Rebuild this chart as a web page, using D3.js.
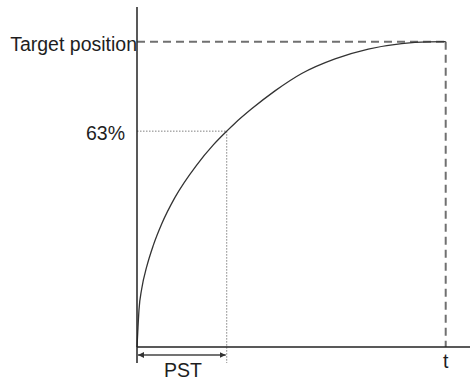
<!DOCTYPE html>
<html>
<head>
<meta charset="utf-8">
<script src="https://cdn.jsdelivr.net/npm/d3@7"></script>
<style>
  body { margin: 0; background: #fff; }
  svg { display: block; }
  text { font-family: "Liberation Sans", Arial, sans-serif; fill: #1e1e1e; }
</style>
</head>
<body>
<div id="chart"></div>
<script>
// time in units of PST, position in % of target
const curveT   = [0, 0.008, 0.022, 0.052, 0.108, 0.181, 0.274, 0.422, 0.663, 0.848, 0.997, 1.089, 1.274, 1.533, 1.83, 2.2, 2.57, 2.94, 3.237, 3.43];
const curvePos = [0, 4.6, 12.1, 19.0, 26.3, 33.3, 40.3, 49.0, 59.6, 66.2, 70.7, 73.3, 78.0, 83.9, 89.6, 94.4, 97.6, 99.4, 99.95, 100];

const pstT = 0.997, pstPos = 70.7;   // where the 63% marker sits in the picture
const endT = 3.43, targetPos = 100;
const yLabels = ["Target position", "63%"];
const xLabels = ["PST", "t"];

const width = 470, height = 382;

const svg = d3.select("#chart")
    .append("svg")
    .attr("width", width)
    .attr("height", height);

// scales
const x = d3.scaleLinear().domain([0, 3.7]).range([137, 470]);
const y = d3.scaleLinear().domain([0, 100]).range([347, 41.7]);

// arrow markers
const defs = svg.append("defs");
["start", "end"].forEach(k => {
    defs.append("marker")
        .attr("id", "arr-" + k)
        .attr("viewBox", "0 0 10 10")
        .attr("refX", k === "end" ? 10 : 0)
        .attr("refY", 5)
        .attr("markerWidth", 6)
        .attr("markerHeight", 6)
        .attr("markerUnits", "userSpaceOnUse")
        .attr("orient", "auto")
        .append("path")
        .attr("d", k === "end" ? "M0,0 L10,5 L0,10 Z" : "M10,0 L0,5 L10,10 Z")
        .attr("fill", "#333");
});

// target level and end time (dashed)
svg.append("line")
    .attr("x1", x(0)).attr("x2", x(endT))
    .attr("y1", y(targetPos)).attr("y2", y(targetPos))
    .attr("stroke", "#707070").attr("stroke-width", 2)
    .attr("stroke-dasharray", "8,5");
svg.append("line")
    .attr("x1", x(endT)).attr("x2", x(endT))
    .attr("y1", y(targetPos)).attr("y2", y(0))
    .attr("stroke", "#707070").attr("stroke-width", 2)
    .attr("stroke-dasharray", "8,5");

// 63% marker (dotted)
svg.append("line")
    .attr("x1", x(0)).attr("x2", x(pstT))
    .attr("y1", y(pstPos)).attr("y2", y(pstPos))
    .attr("stroke", "#808080").attr("stroke-width", 1)
    .attr("stroke-dasharray", "1.5,1.5");
svg.append("line")
    .attr("x1", x(pstT)).attr("x2", x(pstT))
    .attr("y1", y(pstPos)).attr("y2", y(0) + 16)
    .attr("stroke", "#808080").attr("stroke-width", 1)
    .attr("stroke-dasharray", "1.5,1.5");

// response curve
const pts = curveT.map((t, i) => [t, curvePos[i]]);
svg.append("path")
    .datum(pts)
    .attr("fill", "none")
    .attr("stroke", "#333")
    .attr("stroke-width", 1.3)
    .attr("d", d3.line().x(d => x(d[0])).y(d => y(d[1])).curve(d3.curveMonotoneX));

// axes
svg.append("line")
    .attr("x1", x(0)).attr("x2", x(0))
    .attr("y1", y(111.4)).attr("y2", y(0) + 16)
    .attr("stroke", "#222").attr("stroke-width", 1.5);
svg.append("line")
    .attr("x1", x(0)).attr("x2", x(3.7))
    .attr("y1", y(0)).attr("y2", y(0))
    .attr("stroke", "#222").attr("stroke-width", 1.5);

// PST arrow
svg.append("line")
    .attr("x1", x(0) + 1).attr("x2", x(pstT) - 1)
    .attr("y1", y(0) + 8).attr("y2", y(0) + 8)
    .attr("stroke", "#444").attr("stroke-width", 1.5)
    .attr("marker-start", "url(#arr-start)")
    .attr("marker-end", "url(#arr-end)");

// labels
svg.append("text")
    .attr("x", x(0)).attr("y", y(targetPos) + 9)
    .attr("text-anchor", "end")
    .style("font-size", "19.5px")
    .text(yLabels[0]);
svg.append("text")
    .attr("x", x(0) - 12).attr("y", y(pstPos) + 9)
    .attr("text-anchor", "end")
    .style("font-size", "19.5px")
    .text(yLabels[1]);
svg.append("text")
    .attr("x", (x(0) + x(pstT)) / 2 + 1).attr("y", y(0) + 30)
    .attr("text-anchor", "middle")
    .style("font-size", "19.5px")
    .text(xLabels[0]);
svg.append("text")
    .attr("x", x(endT)).attr("y", y(0) + 21)
    .attr("text-anchor", "middle")
    .style("font-size", "19.5px")
    .text(xLabels[1]);
</script>
</body>
</html>
